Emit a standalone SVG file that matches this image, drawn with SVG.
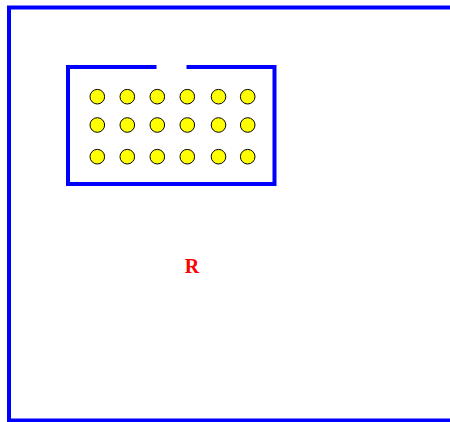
<svg xmlns="http://www.w3.org/2000/svg" width="450" height="422" viewBox="0 0 450 422">
<style>
.wall{fill:none;stroke:#0000ff;stroke-width:4}
.dot{fill:#ffff00;stroke:#000000;stroke-width:1}
.lbl{font-family:"Liberation Serif",serif;font-weight:bold;font-size:20px;fill:#ff0000;text-anchor:middle}
</style>
<rect width="450" height="422" fill="#ffffff"/>
<g id="room">
<path class="wall" d="M 460 7.5 L 9 7.5 L 9 420.5 L 460 420.5"/>
<text class="lbl" x="192" y="273">R</text>
</g>
<g id="box">
<path class="wall" d="M 156.5 67 L 68 67 L 68 184 L 274.5 184 L 274.5 67 L 186.5 67"/>
</g>
<g id="dots">
<circle class="dot" cx="97.3" cy="96.7" r="7.3"/>
<circle class="dot" cx="127.3" cy="96.7" r="7.3"/>
<circle class="dot" cx="157.3" cy="96.7" r="7.3"/>
<circle class="dot" cx="187.3" cy="96.7" r="7.3"/>
<circle class="dot" cx="218.5" cy="96.7" r="7.3"/>
<circle class="dot" cx="247.7" cy="96.7" r="7.3"/>
<circle class="dot" cx="97.3" cy="125" r="7.3"/>
<circle class="dot" cx="127.3" cy="125" r="7.3"/>
<circle class="dot" cx="157.3" cy="125" r="7.3"/>
<circle class="dot" cx="187.3" cy="125" r="7.3"/>
<circle class="dot" cx="218.5" cy="125" r="7.3"/>
<circle class="dot" cx="247.7" cy="125" r="7.3"/>
<circle class="dot" cx="97.3" cy="156.7" r="7.3"/>
<circle class="dot" cx="127.3" cy="156.7" r="7.3"/>
<circle class="dot" cx="157.3" cy="156.7" r="7.3"/>
<circle class="dot" cx="187.3" cy="156.7" r="7.3"/>
<circle class="dot" cx="218.5" cy="156.7" r="7.3"/>
<circle class="dot" cx="247.7" cy="156.7" r="7.3"/>
</g>
</svg>
